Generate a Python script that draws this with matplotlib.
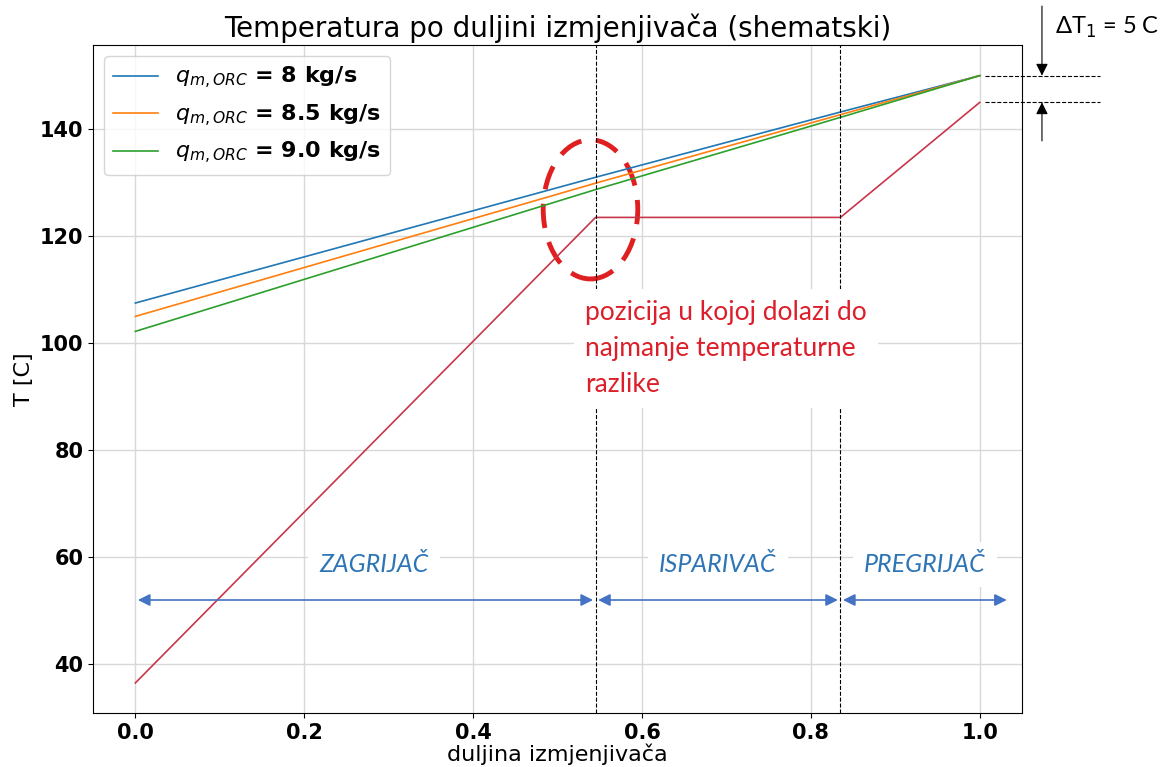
import matplotlib
matplotlib.use('Agg')
import matplotlib.pyplot as plt
from matplotlib.patches import Ellipse
import numpy as np

# polozaj duz izmjenjivaca (pocetak, kraj zagrijaca, kraj isparivaca, kraj)
x_pts = [0.0, 0.545, 0.835, 1.0]
# ORC radni medij
T_orc = [36.5, 123.5, 123.5, 145.0]
# vrela struja za tri protoka
T_hot_8 = [107.5, 131.0, 143.2, 150.0]
T_hot_85 = [105.0, 129.9, 142.7, 150.0]
T_hot_9 = [102.2, 128.7, 142.2, 150.0]
labels = [r'$q_{m,ORC}$ = 8 kg/s', r'$q_{m,ORC}$ = 8.5 kg/s', r'$q_{m,ORC}$ = 9.0 kg/s']
zone_names = ['ZAGRIJAČ', 'ISPARIVAČ', 'PREGRIJAČ']
zone_edges = [0.0, 0.545, 0.835, 1.035]
arrow_T = 52
dT = 5

fig = plt.figure(figsize=(11.64, 7.67), dpi=100)
ax = fig.add_axes([0.080, 0.070, 0.798, 0.871])

ax.plot(x_pts, T_hot_8, color='tab:blue', lw=1.2, label=labels[0])
ax.plot(x_pts, T_hot_85, color='tab:orange', lw=1.2, label=labels[1])
ax.plot(x_pts, T_hot_9, color='tab:green', lw=1.2, label=labels[2])
ax.plot(x_pts, T_orc, color='#c8364a', lw=1.2)

ax.axvline(x_pts[1], color='k', ls='--', lw=0.8)
ax.axvline(x_pts[2], color='k', ls='--', lw=0.8)

ax.grid(True, color='#d8d8d8', lw=1)
ax.set_xticks(np.arange(0, 1.01, 0.2))
ax.set_yticks(np.arange(40, 141, 20))
for lbl in ax.get_xticklabels() + ax.get_yticklabels():
    lbl.set_fontweight('bold')
ax.tick_params(labelsize=15)
ax.set_title('Temperatura po duljini izmjenjivača (shematski)', fontsize=20, pad=6)
ax.set_xlabel('duljina izmjenjivača', fontsize=16, labelpad=0)
ax.set_ylabel('T [C]', fontsize=16)
ax.legend(loc='upper left', prop={'weight': 'bold', 'size': 16})

# zone strelice
blue = '#4472c4'
for i, name in enumerate(zone_names):
    a, b = zone_edges[i], zone_edges[i + 1]
    ax.annotate('', xy=(a + 0.003, arrow_T), xytext=(b - 0.003, arrow_T),
                arrowprops=dict(arrowstyle='<|-|>', color=blue, lw=1.2,
                                mutation_scale=18, shrinkA=0, shrinkB=0),
                annotation_clip=False)
    ax.text((a + b) / 2 + (0.01 if i == 0 else 0), 58.6, name, ha='center', va='center',
            fontsize=18, style='italic', color='#2e75b6', family='Lato',
            bbox=dict(facecolor='white', edgecolor='none', pad=8))

# minimalna razlika temperatura
ax.add_patch(Ellipse((0.539, 125.0), 0.112, 26, fill=False, ec='#e02020',
                     lw=3.5, ls=(0, (5, 3))))
ax.text(0.533, 108, 'pozicija u kojoj dolazi do\nnajmanje temperaturne\nrazlike',
        ha='left', va='top', fontsize=19, color='#dc1f2a', family='Lato',
        linespacing=1.55, bbox=dict(facecolor='white', edgecolor='none', pad=8))

# delta T oznaka
trans = matplotlib.transforms.blended_transform_factory(ax.transAxes, ax.transData)
T_top = T_hot_8[-1]
for T in (T_top, T_top - dT):
    ax.plot([0.96, 1.084], [T, T], color='k', ls='--', lw=0.8,
            transform=trans, clip_on=False)
ax.annotate('', xy=(1.0215, T_top), xycoords=trans, xytext=(1.0215, 163.0),
            textcoords=trans,
            arrowprops=dict(arrowstyle='-|>', color='k', lw=0.8, mutation_scale=18,
                            shrinkA=0, shrinkB=0))
ax.annotate('', xy=(1.0215, T_top - dT), xycoords=trans, xytext=(1.0215, 137.8),
            textcoords=trans,
            arrowprops=dict(arrowstyle='-|>', color='k', lw=0.8, mutation_scale=18,
                            shrinkA=0, shrinkB=0))
ax.text(1.035, 159, r'ΔT$_1$ = 5 C', transform=trans, fontsize=17, family='Lato',
        ha='left', va='center', clip_on=False)

fig.savefig('out.png', dpi=100)
